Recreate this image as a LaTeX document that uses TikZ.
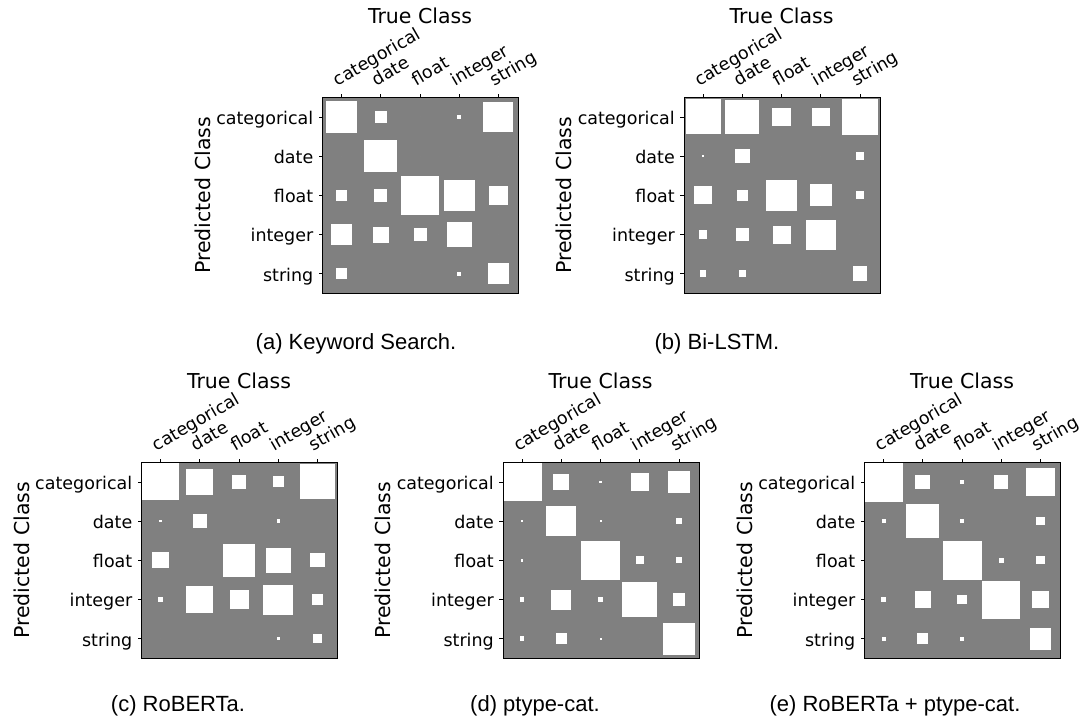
\documentclass[tikz,border=0pt]{standalone}
\usepackage{fontspec}
\setmainfont{DejaVu Sans}
\newfontfamily\capfont{Liberation Sans}
\definecolor{plotgray}{HTML}{808080}
\tikzset{
  frame/.style={draw=black,line width=0.8pt},
  tickmark/.style={draw=black,line width=0.8pt},
  ticklab/.style={inner sep=0pt,font=\fontsize{17.5}{20}\selectfont},
  axlab/.style={inner sep=0pt,font=\fontsize{20.5}{24}\selectfont},
  caplab/.style={inner sep=0pt,font=\capfont\fontsize{22}{26}\selectfont},
  cell/.style={fill=white},
}
% #1 left, #2 top, #3 name, #4 matrix rows (sizes in px)
\newcommand{\hintonpanel}[4]{%
\begin{scope}[shift={(#1,#2)}]
  \fill[plotgray] (0,0) rectangle (196,196);
  \foreach \row [count=\ri from 0] in {#4} {
    \foreach \s [count=\ci from 0] in \row {
      \fill[cell] ({(\ci+0.5)*39.2-\s/2},{(\ri+0.5)*39.2-\s/2}) rectangle ++(\s,\s);
    }
  }
  \node[frame,minimum width=196pt,minimum height=196pt,inner sep=0pt,anchor=north west] (#3-box) at (0,0) {};
  \foreach \lab [count=\i from 0] in {categorical,date,float,integer,string} {
    \coordinate (#3-xt\i) at ({(\i+0.5)*39.2},0);
    \coordinate (#3-xe\i) at ({(\i+0.5)*39.2},-3.5);
    \draw[tickmark] (#3-xt\i) -- (#3-xe\i);
    \node[ticklab,rotate=30,anchor=base west] (#3-xl\i) at ({(\i+0.5)*39.2-4},-11) {\lab};
    \coordinate (#3-yt\i) at (0,{(\i+0.5)*39.2});
    \coordinate (#3-ye\i) at (-3.5,{(\i+0.5)*39.2});
    \draw[tickmark] (#3-yt\i) -- (#3-ye\i);
    \node[ticklab,anchor=base east] (#3-yl\i) at (-8.5,{(\i+0.5)*39.2+7.3}) {\lab};
  }
  \node[axlab,anchor=base] (#3-title) at (98,-74) {True Class};
  \node[axlab,rotate=90,anchor=base] (#3-ylab) at (-112,98) {Predicted Class};
\end{scope}}
\begin{document}
\begin{tikzpicture}[x=1pt,y=-1pt]
\useasboundingbox (0,0) rectangle (1089,723);
\hintonpanel{322}{97.3}{a}{{31.5,12.3,0,4,30},{0,32.7,0,0,0},{10.7,12.7,38.7,31.3,19.3},{21.3,16,13,25.3,0},{10.7,0,0,3.7,21}}
\hintonpanel{683.5}{97.3}{b}{{35,33.7,18.3,18,36.3},{2.3,14.7,0,0,8},{18.3,10.7,31.3,22,8},{8.7,13,18,30,0},{6.7,7.3,0,0,14.7}}
\hintonpanel{141}{462.3}{c}{{37,26.7,14.7,11,35},{2.7,14.3,0,3.3,0},{16.3,0,32.7,25,14.3},{5.7,27.3,19,30,11.7},{0,0,0,3.3,8.7}}
\hintonpanel{502.5}{462.3}{d}{{39,15.7,2.7,18.3,22.7},{2.7,30,2,0,5.7},{2.7,0,39.3,8,5.7},{4.7,20,4.7,35,12.3},{4.7,10.7,2,0,31.7}}
\hintonpanel{864}{462.3}{e}{{39.5,14.7,4,14,28.3},{4,33.3,3.7,0,8.3},{0,0,39,4.7,8.3},{5.3,16.3,9.7,38,17},{4,11.3,3.7,0,21.7}}
\node[caplab,anchor=base] (cap-a) at (356,349) {(a) Keyword Search.};
\node[caplab,anchor=base] (cap-b) at (717,349) {(b) Bi-LSTM.};
\node[caplab,anchor=base] (cap-c) at (178,711) {(c) RoBERTa.};
\node[caplab,anchor=base] (cap-d) at (535,711) {(d) ptype-cat.};
\node[caplab,anchor=base] (cap-e) at (895,711) {(e) RoBERTa + ptype-cat.};
\end{tikzpicture}
\end{document}
